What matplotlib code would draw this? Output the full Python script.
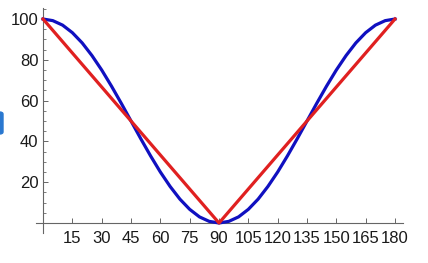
import matplotlib
matplotlib.use('Agg')
import matplotlib.pyplot as plt
from matplotlib.patches import FancyBboxPatch
from matplotlib.ticker import MultipleLocator

# angle in degrees, sampled every 5
angles = [0, 5, 10, 15, 20, 25, 30, 35, 40, 45, 50, 55, 60, 65, 70, 75, 80, 85, 90,
          95, 100, 105, 110, 115, 120, 125, 130, 135, 140, 145, 150, 155, 160, 165, 170, 175, 180]
# blue curve
blue_vals = [100, 99.2, 97.0, 93.3, 88.3, 82.1, 75.0, 67.1, 58.7, 50.0, 41.3, 32.9, 25.0, 17.9,
             11.7, 6.7, 3.0, 0.8, 0.0, 0.8, 3.0, 6.7, 11.7, 17.9, 25.0, 32.9, 41.3, 50.0, 58.7,
             67.1, 75.0, 82.1, 88.3, 93.3, 97.0, 99.2, 100]
# red V line
red_x = [0, 90, 180]
red_vals = [100, 0, 100]

x_ticks = [15, 30, 45, 60, 75, 90, 105, 120, 135, 150, 165, 180]
y_ticks = [20, 40, 60, 80, 100]

plt.rcParams['font.family'] = ['Liberation Sans', 'DejaVu Sans']

fig = plt.figure(figsize=(4.28, 2.63), dpi=100)
ax = fig.add_axes([36 / 428, 30 / 263, 367 / 428, 225 / 263])

ax.plot(angles, blue_vals, color='#1010c0', lw=2.3, solid_joinstyle='round', zorder=3)
ax.plot(red_x, red_vals, color='#e02020', lw=2.3, zorder=4)

ax.set_xlim(-3.6, 184.1)
ax.set_ylim(-4.9, 105.4)

for s in ['top', 'right']:
    ax.spines[s].set_visible(False)
ax.spines['left'].set_position(('data', 0))
ax.spines['bottom'].set_position(('data', 0))
for s in ['left', 'bottom']:
    ax.spines[s].set_color('#666666')
    ax.spines[s].set_linewidth(0.8)

ax.set_xticks(x_ticks)
ax.set_xticklabels([str(t) for t in x_ticks])
ax.set_yticks(y_ticks)
ax.set_yticklabels([str(t) for t in y_ticks])
ax.yaxis.set_minor_locator(MultipleLocator(5))

ax.tick_params(axis='x', direction='in', length=3.5, width=0.7, color='#666666',
               labelsize=12, pad=5.5, labelcolor='#1a1a1a')
ax.tick_params(axis='y', which='major', direction='in', length=3.5, width=0.7,
               color='#666666', labelsize=12, pad=3.4, labelcolor='#1a1a1a')
ax.tick_params(axis='y', which='minor', direction='in', length=2, width=0.6, color='#666666')
ax.patch.set_visible(False)

# small blue tab at the left edge
tab = FancyBboxPatch((-6 / 428, 129 / 263), 9 / 428, 22 / 263,
                     boxstyle='round,pad=0,rounding_size=0.008',
                     transform=fig.transFigure, color='#2a78d0', clip_on=False)
fig.patches.append(tab)

fig.savefig('out.png', dpi=100)
